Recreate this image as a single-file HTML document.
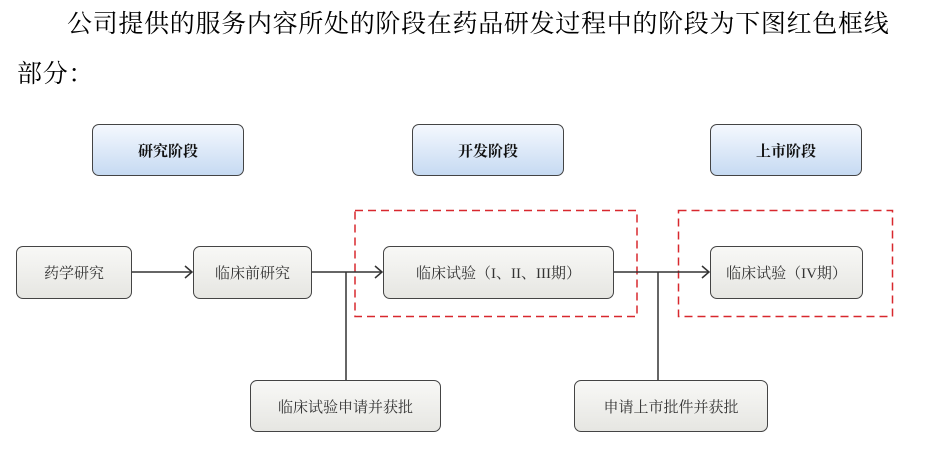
<!DOCTYPE html>
<html><head><meta charset="utf-8"><style>
body{margin:0;width:944px;height:452px;background:#fff;position:relative;overflow:hidden;font-family:"Liberation Serif","Noto Serif CJK SC",serif;}
.t{position:absolute;font-size:25px;line-height:30px;color:#000;white-space:nowrap;letter-spacing:0.7px;}
.b{position:absolute;box-sizing:border-box;border:1.5px solid #444;border-radius:7px;display:flex;align-items:center;justify-content:center;font-size:15px;color:#333;background:linear-gradient(#f8f8f6,#e6e6e2);white-space:nowrap;}
.bl{background:linear-gradient(#f4f8fe,#c6daf2);font-weight:bold;color:#111;}
</style></head><body>
<div class="t" style="left:67px;top:10px;">公司提供的服务内容所处的阶段在药品研发过程中的阶段为下图红色框线</div>
<div class="t" style="left:17px;top:60px;">部分：</div>
<svg style="position:absolute;left:0;top:0" width="944" height="452">
<g stroke="#d8282e" stroke-width="1.5" fill="none" stroke-dasharray="8,5">
<rect x="355" y="210.5" width="282" height="106"/>
<rect x="678.5" y="210.5" width="214" height="106"/>
</g>
<g stroke="#333" stroke-width="1.5" fill="none">
<line x1="131" y1="272" x2="192" y2="272"/><polyline points="185,266 192,272 185,278"/>
<line x1="311" y1="272" x2="382" y2="272"/><polyline points="375,266 382,272 375,278"/>
<line x1="613" y1="272" x2="709" y2="272"/><polyline points="702,266 709,272 702,278"/>
<line x1="346" y1="272" x2="346" y2="380"/>
<line x1="658" y1="272" x2="658" y2="380"/>
</g></svg>
<div class="b bl" style="left:92px;top:124px;width:152px;height:52px;">研究阶段</div>
<div class="b bl" style="left:412px;top:124px;width:152px;height:52px;">开发阶段</div>
<div class="b bl" style="left:710px;top:124px;width:152px;height:52px;">上市阶段</div>
<div class="b" style="left:16px;top:246px;width:116px;height:53px;">药学研究</div>
<div class="b" style="left:193px;top:246px;width:119px;height:53px;">临床前研究</div>
<div class="b" style="left:383px;top:246px;width:231px;height:53px;">临床试验（I、II、III期）</div>
<div class="b" style="left:710px;top:246px;width:153px;height:53px;">临床试验（IV期）</div>
<div class="b" style="left:250px;top:380px;width:191px;height:52px;">临床试验申请并获批</div>
<div class="b" style="left:574px;top:380px;width:194px;height:52px;">申请上市批件并获批</div>
</body></html>
